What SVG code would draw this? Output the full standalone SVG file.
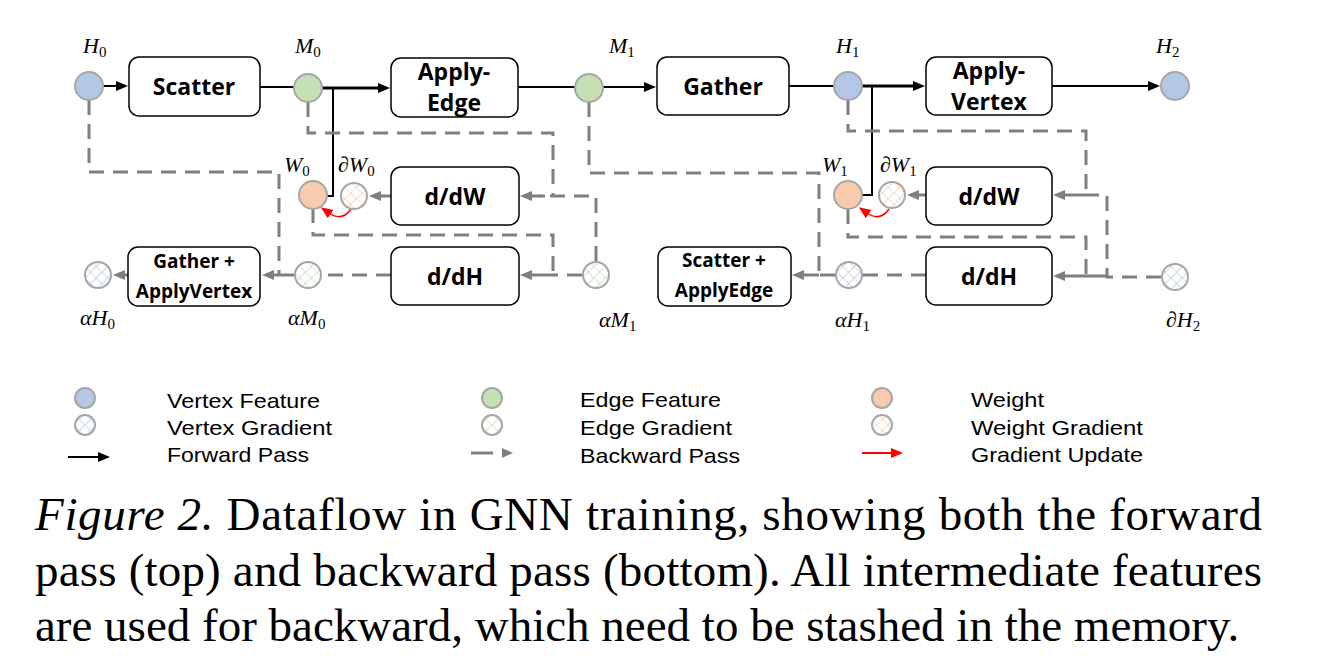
<svg xmlns="http://www.w3.org/2000/svg" width="1323" height="669" viewBox="0 0 1323 669">
<style>
.box{fill:#fff;stroke:#000;stroke-width:1.5}
.bt{font-family:"Open Sans","Liberation Sans",sans-serif;font-weight:bold;font-size:23px;text-anchor:middle;fill:#000}
.bs2{font-size:19px}
.v{fill:#B4C7E7;stroke:#A6A6A6;stroke-width:2}
.e{fill:#C5E0B4;stroke:#A6A6A6;stroke-width:2}
.w{fill:#F8CBAD;stroke:#A6A6A6;stroke-width:2}
.vg{fill:url(#hb);stroke:#A6A6A6;stroke-width:2}
.eg{fill:url(#hg);stroke:#A6A6A6;stroke-width:2}
.wg{fill:url(#ho);stroke:#A6A6A6;stroke-width:2}
.lbl{font-family:"Liberation Serif","Times New Roman",serif;font-style:italic;font-size:22px;fill:#000}
.sub{font-style:normal;font-size:15px}
.fw{stroke:#000;stroke-width:2;fill:none}
.fwt{stroke:#000;stroke-width:3;fill:none}
.bw{stroke:#7F7F7F;stroke-width:3;fill:none;stroke-dasharray:15 9}
.bs{stroke:#7F7F7F;stroke-width:3;fill:none}
.leg{font-family:"Liberation Sans",Arial,sans-serif;font-size:21px;fill:#000}
.cap{font-family:"Liberation Serif","Times New Roman",serif;font-size:47px;fill:#000}
</style>
<defs>
<pattern id="hb" width="8" height="8" patternUnits="userSpaceOnUse" patternTransform="rotate(45)"><rect width="8" height="8" fill="#fff"/><path d="M0 0H8M0 0V8" stroke="#A9BEE3" stroke-width="1.2"/></pattern>
<pattern id="hg" width="8" height="8" patternUnits="userSpaceOnUse" patternTransform="rotate(45)"><rect width="8" height="8" fill="#fff"/><path d="M0 0H8M0 0V8" stroke="#B5DB9C" stroke-width="1.2"/></pattern>
<pattern id="ho" width="8" height="8" patternUnits="userSpaceOnUse" patternTransform="rotate(45)"><rect width="8" height="8" fill="#fff"/><path d="M0 0H8M0 0V8" stroke="#F6BE97" stroke-width="1.2"/></pattern>
<marker id="ab" markerUnits="userSpaceOnUse" markerWidth="14" markerHeight="12" refX="2" refY="5" orient="auto"><path d="M0,0 L12,5 L0,10 z" fill="#000"/></marker>
<marker id="ag" markerUnits="userSpaceOnUse" markerWidth="14" markerHeight="12" refX="2" refY="5" orient="auto"><path d="M0,0 L12,5 L0,10 z" fill="#7F7F7F"/></marker>
<marker id="ar" markerUnits="userSpaceOnUse" markerWidth="14" markerHeight="12" refX="2" refY="5" orient="auto"><path d="M0,0 L12,5 L0,10 z" fill="#FF0000"/></marker>
</defs>
<rect width="1323" height="669" fill="#fff"/>

<g id="connectors">
<path class="fw" d="M103 86H118" marker-end="url(#ab)"/>
<path class="fw" d="M260 87H294"/>
<path class="fwt" d="M322 88H380" marker-end="url(#ab)"/>
<path class="fw" d="M333 88V196H327"/>
<path class="fw" d="M518 87H575"/>
<path class="fw" d="M603 87H646" marker-end="url(#ab)"/>
<path class="fw" d="M789 86H834"/>
<path class="fwt" d="M862 86H915" marker-end="url(#ab)"/>
<path class="fw" d="M872 86V195H862"/>
<path class="fw" d="M1052 86H1150" marker-end="url(#ab)"/>
<path d="M351 209Q342 222 329 213" stroke="#FF0000" stroke-width="1.5" fill="none" marker-end="url(#ar)"/>
<path d="M889 209Q880 222 867 213" stroke="#FF0000" stroke-width="1.5" fill="none" marker-end="url(#ar)"/>
<path class="bw" d="M89 100V172H279V275"/>
<path class="bs" d="M294 275H272" marker-end="url(#ag)"/>
<path class="bs" d="M128 275H123" marker-end="url(#ag)"/>
<path class="bw" d="M308 102V133H553V196"/>
<path class="bw" d="M596 261V196H540"/>
<path class="bs" d="M545 196H530" marker-end="url(#ag)"/>
<path class="bs" d="M391 196H379" marker-end="url(#ag)"/>
<path class="bw" d="M313 208V235H553V275"/>
<path class="bs" d="M553 275H530" marker-end="url(#ag)"/>
<path class="bw" d="M582 275H553"/>
<path class="bw" d="M391 275H322"/>
<path class="bw" d="M589 102V173H819V275"/>
<path class="bs" d="M819 275H802" marker-end="url(#ag)"/>
<path class="bw" d="M835 275H819"/>
<path class="bw" d="M926 275H863"/>
<path class="bw" d="M848 100V131H1086V195"/>
<path class="bs" d="M1086 195H1063" marker-end="url(#ag)"/>
<path class="bs" d="M926 195H917" marker-end="url(#ag)"/>
<path class="bw" d="M848 209V237H1086V276"/>
<path class="bw" d="M1161 277H1107V195H1086"/>
<path class="bs" d="M1107 276H1063" marker-end="url(#ag)"/>
</g>

<g id="scatter"><rect class="box" x="129" y="57" width="131" height="59" rx="10"/><text class="bt" x="194" y="95">Scatter</text></g>
<g id="apply-edge"><rect class="box" x="391" y="58" width="127" height="59" rx="10"/><text class="bt" x="454" y="80">Apply-</text><text class="bt" x="454" y="111">Edge</text></g>
<g id="gather"><rect class="box" x="657" y="57" width="132" height="58" rx="10"/><text class="bt" x="723" y="95">Gather</text></g>
<g id="apply-vertex"><rect class="box" x="926" y="57" width="126" height="58" rx="10"/><text class="bt" x="989" y="79">Apply-</text><text class="bt" x="989" y="110">Vertex</text></g>
<g id="ddw0"><rect class="box" x="391" y="167" width="128" height="58" rx="10"/><text class="bt" x="455" y="205">d/dW</text></g>
<g id="ddh0"><rect class="box" x="391" y="247" width="128" height="58" rx="10"/><text class="bt" x="455" y="285">d/dH</text></g>
<g id="ddw1"><rect class="box" x="926" y="167" width="126" height="58" rx="10"/><text class="bt" x="989" y="205">d/dW</text></g>
<g id="ddh1"><rect class="box" x="926" y="247" width="126" height="58" rx="10"/><text class="bt" x="989" y="285">d/dH</text></g>
<g id="gather-applyvertex"><rect class="box" x="128" y="247" width="132" height="59" rx="10"/><text class="bt bs2" x="194" y="268">Gather +</text><text class="bt bs2" x="194" y="298">ApplyVertex</text></g>
<g id="scatter-applyedge"><rect class="box" x="658" y="247" width="133" height="59" rx="10"/><text class="bt bs2" x="724" y="267">Scatter +</text><text class="bt bs2" x="724" y="297">ApplyEdge</text></g>

<g id="H0"><circle class="v" cx="89" cy="86" r="14"/><text class="lbl" x="83" y="53">H<tspan class="sub" dy="4">0</tspan></text></g>
<g id="M0"><circle class="e" cx="308" cy="88" r="14"/><text class="lbl" x="295" y="53">M<tspan class="sub" dy="4">0</tspan></text></g>
<g id="M1"><circle class="e" cx="589" cy="88" r="14"/><text class="lbl" x="609" y="53">M<tspan class="sub" dy="4">1</tspan></text></g>
<g id="H1"><circle class="v" cx="848" cy="86" r="14"/><text class="lbl" x="836" y="53">H<tspan class="sub" dy="4">1</tspan></text></g>
<g id="H2"><circle class="v" cx="1175" cy="86" r="14"/><text class="lbl" x="1156" y="53">H<tspan class="sub" dy="4">2</tspan></text></g>
<g id="W0"><circle class="w" cx="313" cy="195" r="14"/><text class="lbl" x="284" y="172">W<tspan class="sub" dy="4">0</tspan></text></g>
<g id="dW0"><circle class="wg" cx="354" cy="196" r="13"/><text class="lbl" x="338" y="172">∂W<tspan class="sub" dy="4">0</tspan></text></g>
<g id="W1"><circle class="w" cx="848" cy="195" r="14"/><text class="lbl" x="822" y="172">W<tspan class="sub" dy="4">1</tspan></text></g>
<g id="dW1"><circle class="wg" cx="892" cy="195" r="13"/><text class="lbl" x="880" y="172">∂W<tspan class="sub" dy="4">1</tspan></text></g>
<g id="aH0"><circle class="vg" cx="98" cy="275" r="13"/><text class="lbl" x="80" y="325">αH<tspan class="sub" dy="4">0</tspan></text></g>
<g id="aM0"><circle class="eg" cx="308" cy="275" r="13"/><text class="lbl" x="288" y="325">αM<tspan class="sub" dy="4">0</tspan></text></g>
<g id="aM1"><circle class="eg" cx="596" cy="275" r="13"/><text class="lbl" x="599" y="327">αM<tspan class="sub" dy="4">1</tspan></text></g>
<g id="aH1"><circle class="vg" cx="849" cy="275" r="13"/><text class="lbl" x="835" y="327">αH<tspan class="sub" dy="4">1</tspan></text></g>
<g id="dH2"><circle class="vg" cx="1175" cy="277" r="13"/><text class="lbl" x="1166" y="327">∂H<tspan class="sub" dy="4">2</tspan></text></g>

<g id="legend">
<circle class="v" cx="85" cy="398" r="10"/>
<circle class="vg" cx="85" cy="425" r="10"/>
<path class="fw" d="M68 457H100" marker-end="url(#ab)"/>
<text class="leg" x="167" y="408" textLength="153" lengthAdjust="spacingAndGlyphs">Vertex Feature</text>
<text class="leg" x="167" y="435" textLength="165" lengthAdjust="spacingAndGlyphs">Vertex Gradient</text>
<text class="leg" x="167" y="462" textLength="142" lengthAdjust="spacingAndGlyphs">Forward Pass</text>
<circle class="e" cx="492" cy="398" r="10"/>
<circle class="eg" cx="492" cy="425" r="10"/>
<path class="bs" d="M471 453H493"/>
<path d="M502 448L513 453L502 458z" fill="#7F7F7F"/>
<text class="leg" x="580" y="407" textLength="141" lengthAdjust="spacingAndGlyphs">Edge Feature</text>
<text class="leg" x="580" y="435" textLength="152" lengthAdjust="spacingAndGlyphs">Edge Gradient</text>
<text class="leg" x="580" y="463" textLength="160" lengthAdjust="spacingAndGlyphs">Backward Pass</text>
<circle class="w" cx="882" cy="398" r="10"/>
<circle class="wg" cx="882" cy="425" r="10"/>
<path d="M862 453H893" stroke="#FF0000" stroke-width="2" marker-end="url(#ar)"/>
<text class="leg" x="971" y="407" textLength="73" lengthAdjust="spacingAndGlyphs">Weight</text>
<text class="leg" x="971" y="435" textLength="172" lengthAdjust="spacingAndGlyphs">Weight Gradient</text>
<text class="leg" x="971" y="462" textLength="172" lengthAdjust="spacingAndGlyphs">Gradient Update</text>
</g>

<g id="caption">
<text class="cap" x="35" y="530" textLength="1227" lengthAdjust="spacing"><tspan font-style="italic">Figure 2.</tspan> Dataflow in GNN training, showing both the forward</text>
<text class="cap" x="35" y="586" textLength="1227" lengthAdjust="spacing">pass (top) and backward pass (bottom). All intermediate features</text>
<text class="cap" x="35" y="641">are used for backward, which need to be stashed in the memory.</text>
</g>
</svg>
